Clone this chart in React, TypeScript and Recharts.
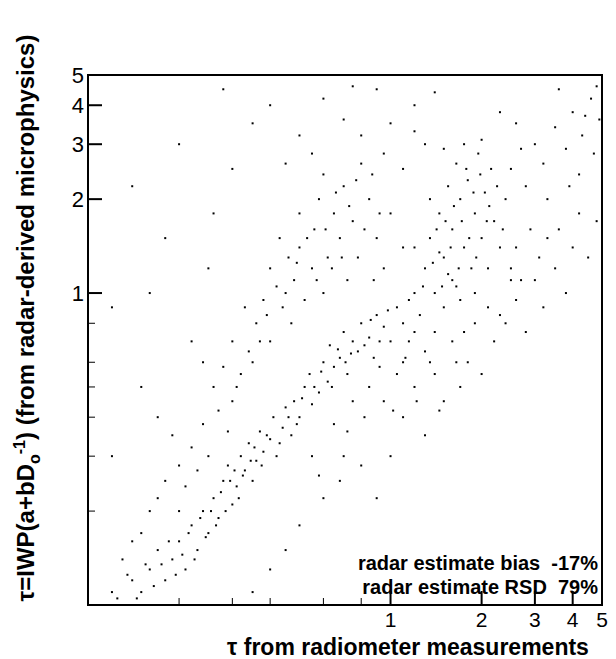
import React from 'react';
import { ScatterChart, Scatter, XAxis, YAxis, Customized } from 'recharts';

const lowerLeft = [[0.12,0.11],[0.13,0.1],[0.14,0.12],[0.15,0.11],[0.13,0.14],[0.16,0.13],[0.17,0.15],[0.15,0.17],[0.18,0.12],[0.19,0.14],[0.2,0.16],[0.21,0.13],[0.22,0.18],[0.2,0.2],[0.23,0.15],[0.24,0.2],[0.25,0.17],[0.26,0.22],[0.27,0.19],[0.28,0.25],[0.3,0.21],[0.29,0.28],[0.31,0.24],[0.33,0.27],[0.32,0.3],[0.35,0.25],[0.34,0.33],[0.36,0.29],[0.38,0.31],[0.37,0.36],[0.4,0.34],[0.42,0.3],[0.41,0.4],[0.44,0.37],[0.45,0.43],[0.47,0.35],[0.48,0.45],[0.5,0.4],[0.52,0.5],[0.55,0.44],[0.54,0.55],[0.58,0.48],[0.6,0.6],[0.62,0.52],[0.65,0.58],[0.63,0.68],[0.68,0.62],[0.7,0.75],[0.72,0.55],[0.75,0.7],[0.78,0.65],[0.8,0.8],[0.85,0.72],[0.88,0.62],[0.9,0.85],[0.95,0.78],[1.0,0.7],[1.05,0.9],[1.1,0.8],[1.15,0.95],[1.2,0.75],
  [0.125,0.105],[0.135,0.125],[0.145,0.105],[0.155,0.135],[0.165,0.115],[0.175,0.135],[0.185,0.16],[0.195,0.125],[0.205,0.145],[0.215,0.17],[0.225,0.14],[0.235,0.19],[0.245,0.165],[0.255,0.2],[0.265,0.18],[0.275,0.23],[0.285,0.2],[0.295,0.25],[0.305,0.27],[0.315,0.22],[0.325,0.26],[0.345,0.29],[0.355,0.32],[0.375,0.28],[0.39,0.35],[0.43,0.33],[0.46,0.4],[0.49,0.38],[0.51,0.46],[0.56,0.5],[0.59,0.56],[0.64,0.5],[0.67,0.66],[0.71,0.6],[0.74,0.64],[0.82,0.68],[0.86,0.82],[0.92,0.7],[0.98,0.88]];
const upperArm = [[0.14,0.16],[0.16,0.2],[0.18,0.25],[0.2,0.28],[0.22,0.32],[0.19,0.35],[0.24,0.38],[0.25,0.3],[0.27,0.42],[0.26,0.5],[0.3,0.45],[0.28,0.58],[0.32,0.55],[0.3,0.7],[0.34,0.65],[0.36,0.8],[0.33,0.9],[0.38,0.95],[0.4,0.7],[0.42,1.05],[0.4,1.2],[0.44,0.9],[0.46,1.3],[0.43,1.5],[0.48,1.1],[0.5,1.4],[0.52,0.95],[0.55,1.2],[0.5,1.8],[0.56,1.6],[0.6,1.0],[0.58,2.0],[0.62,1.3],[0.65,1.8],[0.6,2.4],[0.68,1.5],[0.7,2.2],[0.72,1.1],[0.75,1.7],[0.8,2.6],[0.78,1.3],[0.85,2.0],[0.9,1.5],[0.95,2.8],[0.88,1.1],
  [0.17,0.22],[0.21,0.24],[0.23,0.27],[0.29,0.36],[0.31,0.5],[0.35,0.6],[0.37,0.7],[0.39,0.85],[0.45,1.0],[0.47,0.8],[0.49,1.25],[0.53,1.5],[0.57,1.1],[0.61,1.6],[0.64,1.2],[0.66,2.1],[0.69,1.3],[0.73,1.9],[0.77,2.3],[0.82,1.6],[0.87,2.4],[0.92,1.8]];
const rightBand = [[1.1,0.6],[1.2,1.0],[1.3,1.2],[1.25,0.85],[1.35,1.5],[1.4,1.0],[1.45,1.8],[1.5,1.3],[1.55,2.2],[1.6,1.1],[1.6,1.6],[1.7,2.0],[1.65,2.6],[1.75,1.4],[1.8,2.3],[1.85,1.2],[1.9,1.8],[1.95,2.8],[2.0,1.5],[2.05,2.1],[2.1,1.2],[2.2,1.7],[2.15,2.5],[2.3,1.4],[2.4,2.0],[2.5,1.1],[1.4,0.75],[1.5,0.9],[1.3,0.65],[1.7,0.95],[1.2,1.4],[1.35,2.0],[1.5,2.9],[1.75,3.0],[2.0,3.1],[1.9,1.0],
  [1.15,0.7],[1.28,1.05],[1.38,1.25],[1.42,1.6],[1.48,1.05],[1.52,1.7],[1.58,1.4],[1.62,1.9],[1.68,1.2],[1.72,1.7],[1.78,2.5],[1.82,1.5],[1.88,2.1],[1.92,1.3],[1.98,2.4],[2.08,1.7],[2.12,1.9],[2.25,2.2],[2.35,1.6],[1.55,1.15],[1.65,1.05],[1.45,1.35]];
const lowerTail = [[1.0,0.3],[1.1,0.4],[1.2,0.5],[1.3,0.35],[1.4,0.55],[1.5,0.45],[1.6,0.7],[1.7,0.5],[1.8,0.6],[1.9,0.8],[2.0,0.55],[2.1,0.9],[2.2,0.7],[2.4,0.8],[2.6,0.95],[2.8,0.75],[3.0,1.1],[3.2,0.9],[3.5,1.2],[3.8,1.0],[4.0,1.4],[4.5,1.3],[4.8,1.7],[0.8,0.28],[0.9,0.22],[0.7,0.3],[0.6,0.22],[0.5,0.18],[0.45,0.15],[0.4,0.13],[0.35,0.11],[0.55,0.3],[0.65,0.38],[0.75,0.45],[0.85,0.5],[0.95,0.45],[1.05,0.55],[2.6,1.4],[2.9,1.6],[3.3,1.5],
  [0.72,0.36],[0.82,0.4],[0.92,0.58],[1.02,0.42],[1.12,0.62],[1.22,0.45],[1.35,0.6],[1.45,0.42],[1.65,0.6],[1.75,0.75],[2.3,0.85],[2.5,1.2],[2.7,1.1],[3.1,1.3],[3.6,1.6],[4.2,1.8],[0.58,0.26],[0.68,0.25]];
const topRight = [[2.5,2.5],[2.8,2.2],[3.0,3.0],[3.2,2.6],[3.5,3.4],[3.8,2.9],[4.0,3.8],[4.3,3.2],[4.6,4.2],[4.9,3.6],[3.6,4.5],[2.6,3.5],[2.3,3.8],[4.2,2.4],[4.7,2.8],[2.7,2.9],[3.3,2.0],[3.9,2.2],[4.4,3.7],[4.8,4.6]];
const sparse = [[0.15,0.5],[0.12,0.9],[0.18,1.5],[0.2,3.0],[0.14,2.2],[0.25,1.2],[0.3,2.5],[0.28,4.5],[0.35,3.5],[0.22,0.7],[0.12,0.3],[0.4,4.0],[0.5,3.2],[0.45,2.6],[0.6,4.2],[0.7,3.6],[0.9,4.5],[1.0,3.5],[1.2,4.0],[0.8,3.2],[1.1,2.5],[1.3,3.0],[1.0,1.8],[0.95,1.2],[1.1,1.4],[0.17,0.4],[0.24,0.6],[0.16,1.0],[0.26,1.8],[0.55,2.8],[0.75,4.6],[1.4,4.4],[1.2,3.3]];

const ticks = [0.1,0.2,0.3,0.4,0.5,0.6,0.7,0.8,0.9,1,2,3,4,5];
const labelled = [1, 2, 3, 4, 5];

const points = [...lowerLeft, ...upperArm, ...rightBand, ...lowerTail, ...topRight, ...sparse].map(([x, y]) => ({ x, y }));

// plot box inside the svg
const W = 608, H = 656;
const L = 80, T = 67, R = 594, B = 597;

const Dot = (p: any) => <rect x={p.cx - 1} y={p.cy - 1} width={2} height={2} fill="#000" />;

const XTick = (p: any) => {
  const v = p.payload.value;
  const major = labelled.includes(v);
  return (
    <g>
      <line x1={p.x} x2={p.x} y1={B} y2={B - (major ? 14 : 7)} stroke="#000" strokeWidth={major ? 2 : 1} />
      {major && <text x={p.x} y={B + 22} textAnchor="middle" fontSize={21}>{v}</text>}
    </g>
  );
};

const YTick = (p: any) => {
  const v = p.payload.value;
  const major = labelled.includes(v);
  return (
    <g>
      <line x1={L} x2={L + (major ? 14 : 7)} y1={p.y} y2={p.y} stroke="#000" strokeWidth={major ? 2 : 1} />
      {major && <text x={L - 4} y={p.y + 8} textAnchor="end" fontSize={22}>{v}</text>}
    </g>
  );
};

export default function App() {
  return (
    <div style={{ fontFamily: 'Liberation Sans, Arial, sans-serif' }}>
      <ScatterChart width={W} height={H} margin={{ top: T, right: W - R, bottom: 0, left: 0 }}>
        <XAxis type="number" dataKey="x" scale="log" domain={[0.1, 5]} allowDataOverflow ticks={ticks} tick={XTick} axisLine={false} tickLine={false} height={H - B} />
        <YAxis type="number" dataKey="y" scale="log" domain={[0.1, 5]} allowDataOverflow ticks={ticks} tick={YTick} axisLine={false} tickLine={false} width={L} />
        <Scatter data={points} shape={Dot} isAnimationActive={false} />
        <Customized component={() => (
          <g fontFamily="Liberation Sans, Arial, sans-serif">
            <rect x={L} y={T} width={R - L} height={B - T} fill="none" stroke="#000" strokeWidth={2} />
            <text x={R - 4} y={562} textAnchor="end" fontSize={20} fontWeight="bold" style={{ whiteSpace: 'pre' }}>radar estimate bias  -17%</text>
            <text x={R - 4} y={586} textAnchor="end" fontSize={20} fontWeight="bold" style={{ whiteSpace: 'pre' }}>radar estimate RSD  79%</text>
            <text x={400} y={647} textAnchor="middle" fontSize={23} fontWeight="bold">τ from radiometer measurements</text>
            <text transform="translate(26,310) rotate(-90)" textAnchor="middle" fontSize={24} fontWeight="bold">
              τ=IWP(a+bD<tspan fontSize={16} dy={6}>o</tspan><tspan fontSize={16} dy={-15}>-1</tspan><tspan dy={9}>) (from radar-derived microphysics)</tspan>
            </text>
          </g>
        )} />
      </ScatterChart>
    </div>
  );
}
